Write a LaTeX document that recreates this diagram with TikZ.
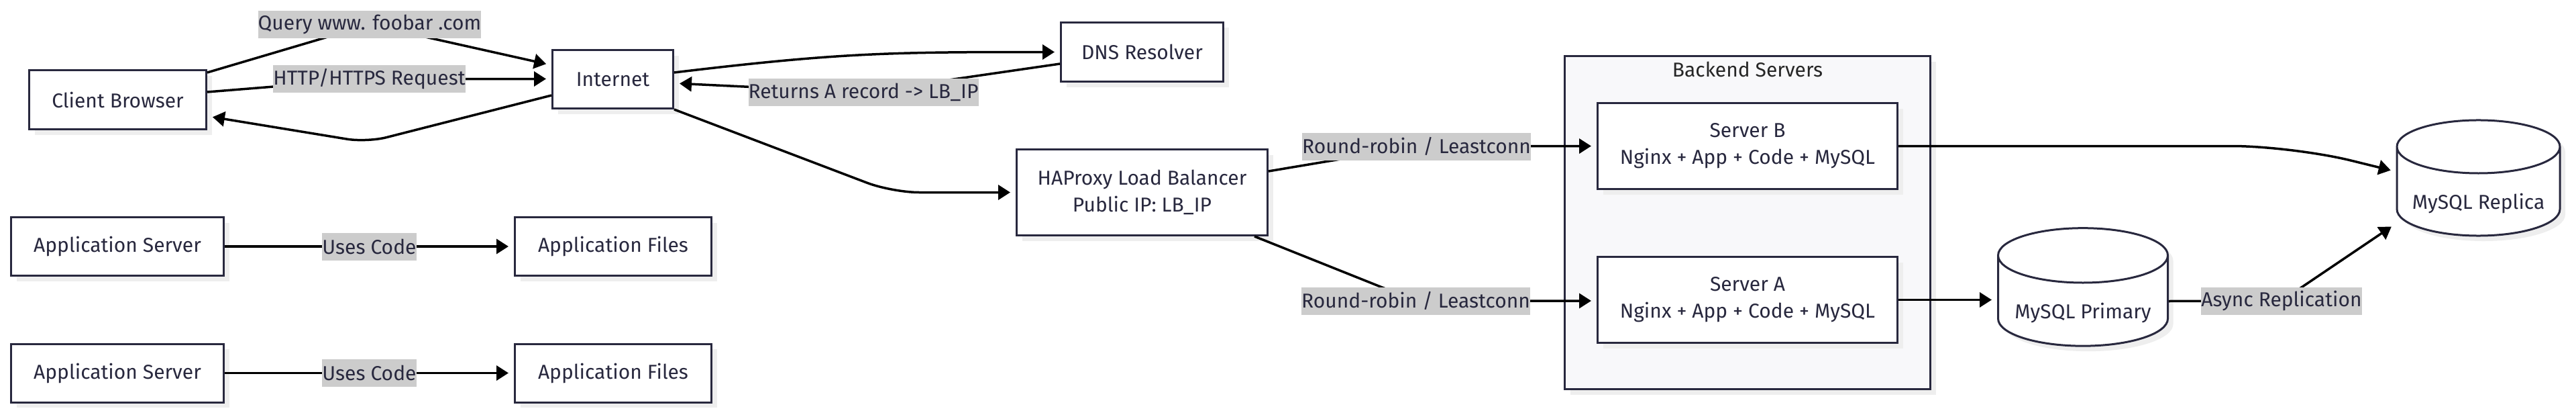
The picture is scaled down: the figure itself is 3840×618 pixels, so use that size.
\documentclass[tikz,border=0pt]{standalone}
\usepackage{fontspec}
\setmainfont{Fira Sans}
\usetikzlibrary{arrows.meta,shapes.geometric,shadows}
\definecolor{ink}{RGB}{40,40,62}
\definecolor{lblgray}{RGB}{204,204,204}
\definecolor{shade}{RGB}{238,238,238}
\definecolor{clusterbg}{RGB}{248,248,250}
\begin{document}
\begin{tikzpicture}[x=1pt,y=-1pt,>={Triangle[length=18pt,width=22pt]},
  every node/.style={font=\fontsize{30}{40}\selectfont,text=ink,align=center},
  box/.style={draw=ink,line width=3pt,fill=white,inner sep=0pt,
    drop shadow={shadow xshift=8pt,shadow yshift=-8pt,fill=shade,opacity=1}},
  db/.style={box,cylinder,shape border rotate=90,aspect=0.4,text height=52pt,text depth=0pt},
  lbl/.style={fill=lblgray,inner sep=0pt,minimum height=41pt},
  arr/.style={->,line width=3.5pt,shorten >=8pt}]
  \path[use as bounding box,fill=white] (0,0) rectangle (3840,618);

  % cluster
  \node[box,fill=clusterbg,minimum width=545pt,minimum height=496pt] (backend) at (2605,331.5) {};
  \node[text=black!85] (backendtitle) at (2605,103) {Backend Servers};

  % nodes
  \node[box,minimum width=264pt,minimum height=88pt] (client) at (175.5,148.5) {Client Browser};
  \node[box,minimum width=180pt,minimum height=87pt] (internet) at (913.5,118) {Internet};
  \node[box,minimum width=242pt,minimum height=88pt] (dns) at (1702.5,77.5) {DNS Resolver};
  \node[box,minimum width=374pt,minimum height=128pt] (lb) at (1702.5,286.5) {HAProxy Load Balancer\\Public IP: LB\_IP};
  \node[box,minimum width=447pt,minimum height=128pt] (srvb) at (2605,217.5) {Server B\\Nginx + App + Code + MySQL};
  \node[box,minimum width=447pt,minimum height=128pt] (srva) at (2605,446.5) {Server A\\Nginx + App + Code + MySQL};
  \node[db,minimum width=253pt,minimum height=164pt] (primary) at (3105,448.5) {MySQL Primary};
  \node[db,minimum width=243pt,minimum height=160pt] (replica) at (3694.5,285.5) {MySQL Replica};

  % bends and label spots
  \coordinate (qpos) at (551,36.5);
  \coordinate (hpos) at (550.5,117.5);
  \coordinate (retbend) at (547,212);
  \coordinate (rpos) at (1287,137.5);
  \coordinate (lbbend) at (1330,286.5);
  \coordinate (bpos) at (2111.5,218);
  \coordinate (apos) at (2110.5,448);
  \coordinate (repbend) at (3417,217.5);
  \coordinate (ypos) at (3401,448);

  % edges
  \draw[arr] ([yshift=-5pt]client.north east) -- (qpos) node[lbl] (qlbl) {Query www. foobar .com} -- ([yshift=21pt]internet.west);
  \draw[arr] ([yshift=11.5pt]client.east) -- (hpos) node[lbl] (hlbl) {HTTP/HTTPS Request} -- (hpos -| internet.west);
  \draw[arr,rounded corners=30pt] ([yshift=-24pt]internet.west) -- (retbend) -- ([yshift=-24.5pt]client.east);
  \draw[arr] ([yshift=10pt]internet.east) .. controls +(250,-30) and +(-250,0) .. (dns.west);
  \draw[arr] ([yshift=-17.5pt]dns.west) -- (rpos) node[lbl] (rlbl) {Returns A record -> LB\_IP} -- ([yshift=-6pt]internet.east);
  \draw[arr,rounded corners=40pt] (internet.south east) -- (lbbend) -- (lb.west);
  \draw[arr] ([yshift=31.5pt]lb.east) -- (bpos) node[lbl] (blbl) {Round-robin / Leastconn} -- (srvb.west);
  \draw[arr] ([xshift=-21pt]lb.south east) -- (apos) node[lbl] (albl) {Round-robin / Leastconn} -- (apos -| srva.west);
  \draw[arr,rounded corners=90pt] (srvb.east) -- (repbend) -- ([yshift=30pt]replica.west);
  \draw[arr] (srva.east) -- (srva.east -| primary.west);
  \draw[arr] (primary.east) -- (ypos) node[lbl] (ylbl) {Async Replication} -- ([yshift=-47.5pt]replica.west);

  % app rows
  \foreach \i/\y in {1/367,2/555.5} {
    \node[box,minimum width=317pt,minimum height=87pt] (app\i) at (175,\y) {Application Server};
    \node[box,minimum width=293pt,minimum height=87pt] (files\i) at (914,\y) {Application Files};
    \draw[arr] (app\i) -- node[lbl] (uses\i) {Uses Code} (files\i);
  }
\end{tikzpicture}
\end{document}
